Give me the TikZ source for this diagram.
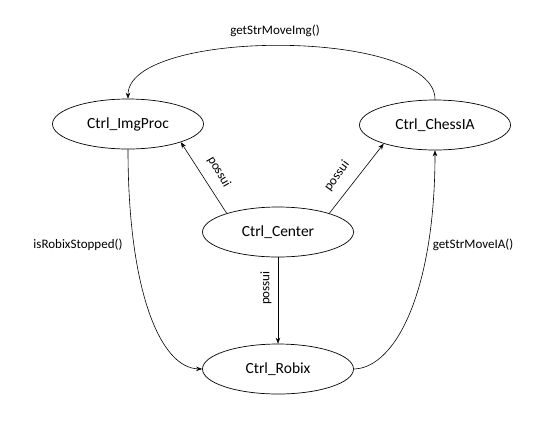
\documentclass[tikz,border=0pt]{standalone}
\usepackage{fontspec}
\setmainfont{Carlito}
\usetikzlibrary{shapes.geometric,arrows.meta}
\begin{document}
\begin{tikzpicture}[x=1pt,y=-1pt,
  state/.style={draw,ellipse,line width=0.7pt,minimum width=151pt,minimum height=50pt,inner sep=0pt,font=\fontsize{15.5}{18}\selectfont},
  lbl/.style={font=\fontsize{13}{15}\selectfont,inner sep=0pt},
  conn/.style={line width=0.6pt,-{Stealth[length=6pt,width=4.5pt]}}]
\useasboundingbox (0,0) rectangle (553,421);
\node[state] (ip) at (128,124) {Ctrl\_ImgProc};
\node[state] (ch) at (435,125) {Ctrl\_ChessIA};
\node[state] (ce) at (278,232) {Ctrl\_Center};
\node[state] (rb) at (278,369) {Ctrl\_Robix};
\draw[conn] (ce.160) -- (ip.-19);
\draw[conn] (ce.20) -- (ch.200);
\draw[conn] (ce.south) -- (rb.north);
\draw[conn] (ch.north) .. controls (436,28) and (128,28) .. (ip.north);
\draw[conn] (ip.south) .. controls (128,290) and (160,368) .. (rb.west);
\draw[conn] (rb.east) .. controls (396,368) and (435,290) .. (ch.south);
\node[lbl] (l1) at (275,31) {getStrMoveImg()};
\node[lbl,rotate=-60] (l2) at (219,172) {possui};
\node[lbl,rotate=54] (l3) at (337,176) {possui};
\node[lbl,rotate=90] (l4) at (266,288) {possui};
\node[lbl] (l5) at (78,245) {isRobixStopped()};
\node[lbl] (l6) at (473,245) {getStrMoveIA()};
\end{tikzpicture}
\end{document}
